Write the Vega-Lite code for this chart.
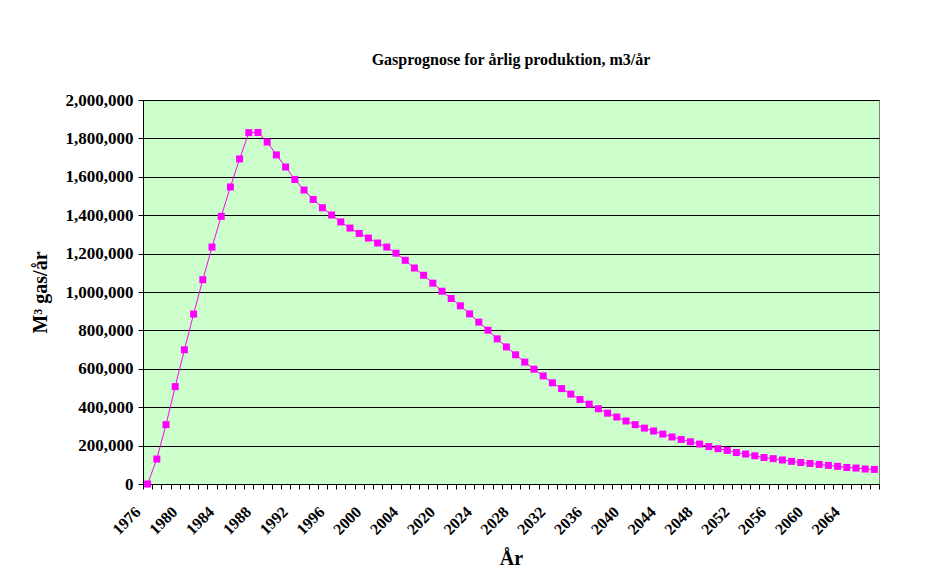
{
  "$schema": "https://vega.github.io/schema/vega-lite/v6.json",
  "width": 736,
  "height": 384,
  "autosize": "none",
  "padding": {"left": 143, "top": 100, "right": 51, "bottom": 104},
  "background": "white",
  "title": {
    "text": "Gasprognose for årlig produktion, m3/år",
    "font": "Liberation Serif",
    "fontSize": 16,
    "fontWeight": "bold",
    "color": "black",
    "anchor": "middle",
    "offset": 23
  },
  "data": {
    "values": [
      {"year": "1976", "gas": 0},
      {"year": "1977", "gas": 130000},
      {"year": "1978", "gas": 309000},
      {"year": "1979", "gas": 507000},
      {"year": "1980", "gas": 699000},
      {"year": "1981", "gas": 885000},
      {"year": "1982", "gas": 1064000},
      {"year": "1983", "gas": 1234000},
      {"year": "1984", "gas": 1394000},
      {"year": "1985", "gas": 1547000},
      {"year": "1986", "gas": 1693000},
      {"year": "1987", "gas": 1830000},
      {"year": "1988", "gas": 1831000},
      {"year": "1989", "gas": 1781000},
      {"year": "1990", "gas": 1714000},
      {"year": "1991", "gas": 1651000},
      {"year": "1992", "gas": 1586000},
      {"year": "1993", "gas": 1531000},
      {"year": "1994", "gas": 1482000},
      {"year": "1995", "gas": 1439000},
      {"year": "1996", "gas": 1401000},
      {"year": "1997", "gas": 1365000},
      {"year": "1998", "gas": 1333000},
      {"year": "1999", "gas": 1305000},
      {"year": "2000", "gas": 1281000},
      {"year": "2001", "gas": 1255000},
      {"year": "2002", "gas": 1234000},
      {"year": "2003", "gas": 1202000},
      {"year": "2004", "gas": 1165000},
      {"year": "2017", "gas": 1125000},
      {"year": "2018", "gas": 1087000},
      {"year": "2019", "gas": 1046000},
      {"year": "2020", "gas": 1004000},
      {"year": "2021", "gas": 966000},
      {"year": "2022", "gas": 928000},
      {"year": "2023", "gas": 886000},
      {"year": "2024", "gas": 843000},
      {"year": "2025", "gas": 801000},
      {"year": "2026", "gas": 756000},
      {"year": "2027", "gas": 714000},
      {"year": "2028", "gas": 673000},
      {"year": "2029", "gas": 635000},
      {"year": "2030", "gas": 598000},
      {"year": "2031", "gas": 563000},
      {"year": "2032", "gas": 527000},
      {"year": "2033", "gas": 497000},
      {"year": "2034", "gas": 468000},
      {"year": "2035", "gas": 440000},
      {"year": "2036", "gas": 416000},
      {"year": "2037", "gas": 392000},
      {"year": "2038", "gas": 369000},
      {"year": "2039", "gas": 349000},
      {"year": "2040", "gas": 328000},
      {"year": "2041", "gas": 309000},
      {"year": "2042", "gas": 291000},
      {"year": "2043", "gas": 276000},
      {"year": "2044", "gas": 260000},
      {"year": "2045", "gas": 245000},
      {"year": "2046", "gas": 232000},
      {"year": "2047", "gas": 220000},
      {"year": "2048", "gas": 208000},
      {"year": "2049", "gas": 195000},
      {"year": "2050", "gas": 184000},
      {"year": "2051", "gas": 175000},
      {"year": "2052", "gas": 164000},
      {"year": "2053", "gas": 156000},
      {"year": "2054", "gas": 147000},
      {"year": "2055", "gas": 138000},
      {"year": "2056", "gas": 132000},
      {"year": "2057", "gas": 125000},
      {"year": "2058", "gas": 118000},
      {"year": "2059", "gas": 112000},
      {"year": "2060", "gas": 107000},
      {"year": "2061", "gas": 102000},
      {"year": "2062", "gas": 97000},
      {"year": "2063", "gas": 92000},
      {"year": "2064", "gas": 86000},
      {"year": "2065", "gas": 83000},
      {"year": "2066", "gas": 78000},
      {"year": "2067", "gas": 76000}
    ]
  },
  "encoding": {
    "x": {
      "field": "year",
      "type": "ordinal",
      "sort": null,
      "scale": {"type": "band", "paddingInner": 0, "paddingOuter": 0},
      "axis": {
        "title": "År",
        "labelExpr": "toNumber(datum.value) % 4 == 0 ? datum.value : ''",
        "labelAngle": -45,
        "labelAlign": "right",
        "labelBaseline": "middle",
        "labelOffset": -10,
        "labelPadding": 20,
        "labelOverlap": false,
        "tickBand": "extent",
        "tickSize": 5,
        "tickColor": "black",
        "domainColor": "black",
        "labelFont": "Liberation Serif",
        "labelFontSize": 16,
        "labelFontWeight": "bold",
        "labelColor": "black",
        "titleFont": "Liberation Serif",
        "titleFontSize": 20,
        "titleFontWeight": "bold",
        "titleColor": "black",
        "titleBaseline": "alphabetic",
        "titleY": 80,
        "grid": false
      }
    },
    "y": {
      "field": "gas",
      "type": "quantitative",
      "scale": {"domain": [0, 2000000], "nice": false},
      "axis": {
        "title": "M³ gas/år",
        "values": [0, 200000, 400000, 600000, 800000, 1000000, 1200000, 1400000, 1600000, 1800000, 2000000],
        "format": ",d",
        "tickSize": 5,
        "labelPadding": 5,
        "tickColor": "black",
        "domainColor": "black",
        "gridColor": "black",
        "gridOpacity": 1,
        "labelFont": "Liberation Serif",
        "labelFontSize": 17,
        "labelFontWeight": "bold",
        "labelColor": "black",
        "titleFont": "Liberation Serif",
        "titleFontSize": 20,
        "titleFontWeight": "bold",
        "titleColor": "black",
        "titleBaseline": "middle",
        "titleX": -103,
        "titleY": 192
      }
    }
  },
  "layer": [
    {"mark": {"type": "line", "color": "#FF00FF", "strokeWidth": 1}},
    {"mark": {"type": "point", "shape": "square", "filled": true, "color": "#FF00FF", "size": 49, "opacity": 1}}
  ],
  "config": {
    "view": {"fill": "#CCFFCC", "stroke": "#808080", "strokeWidth": 1}
  }
}
